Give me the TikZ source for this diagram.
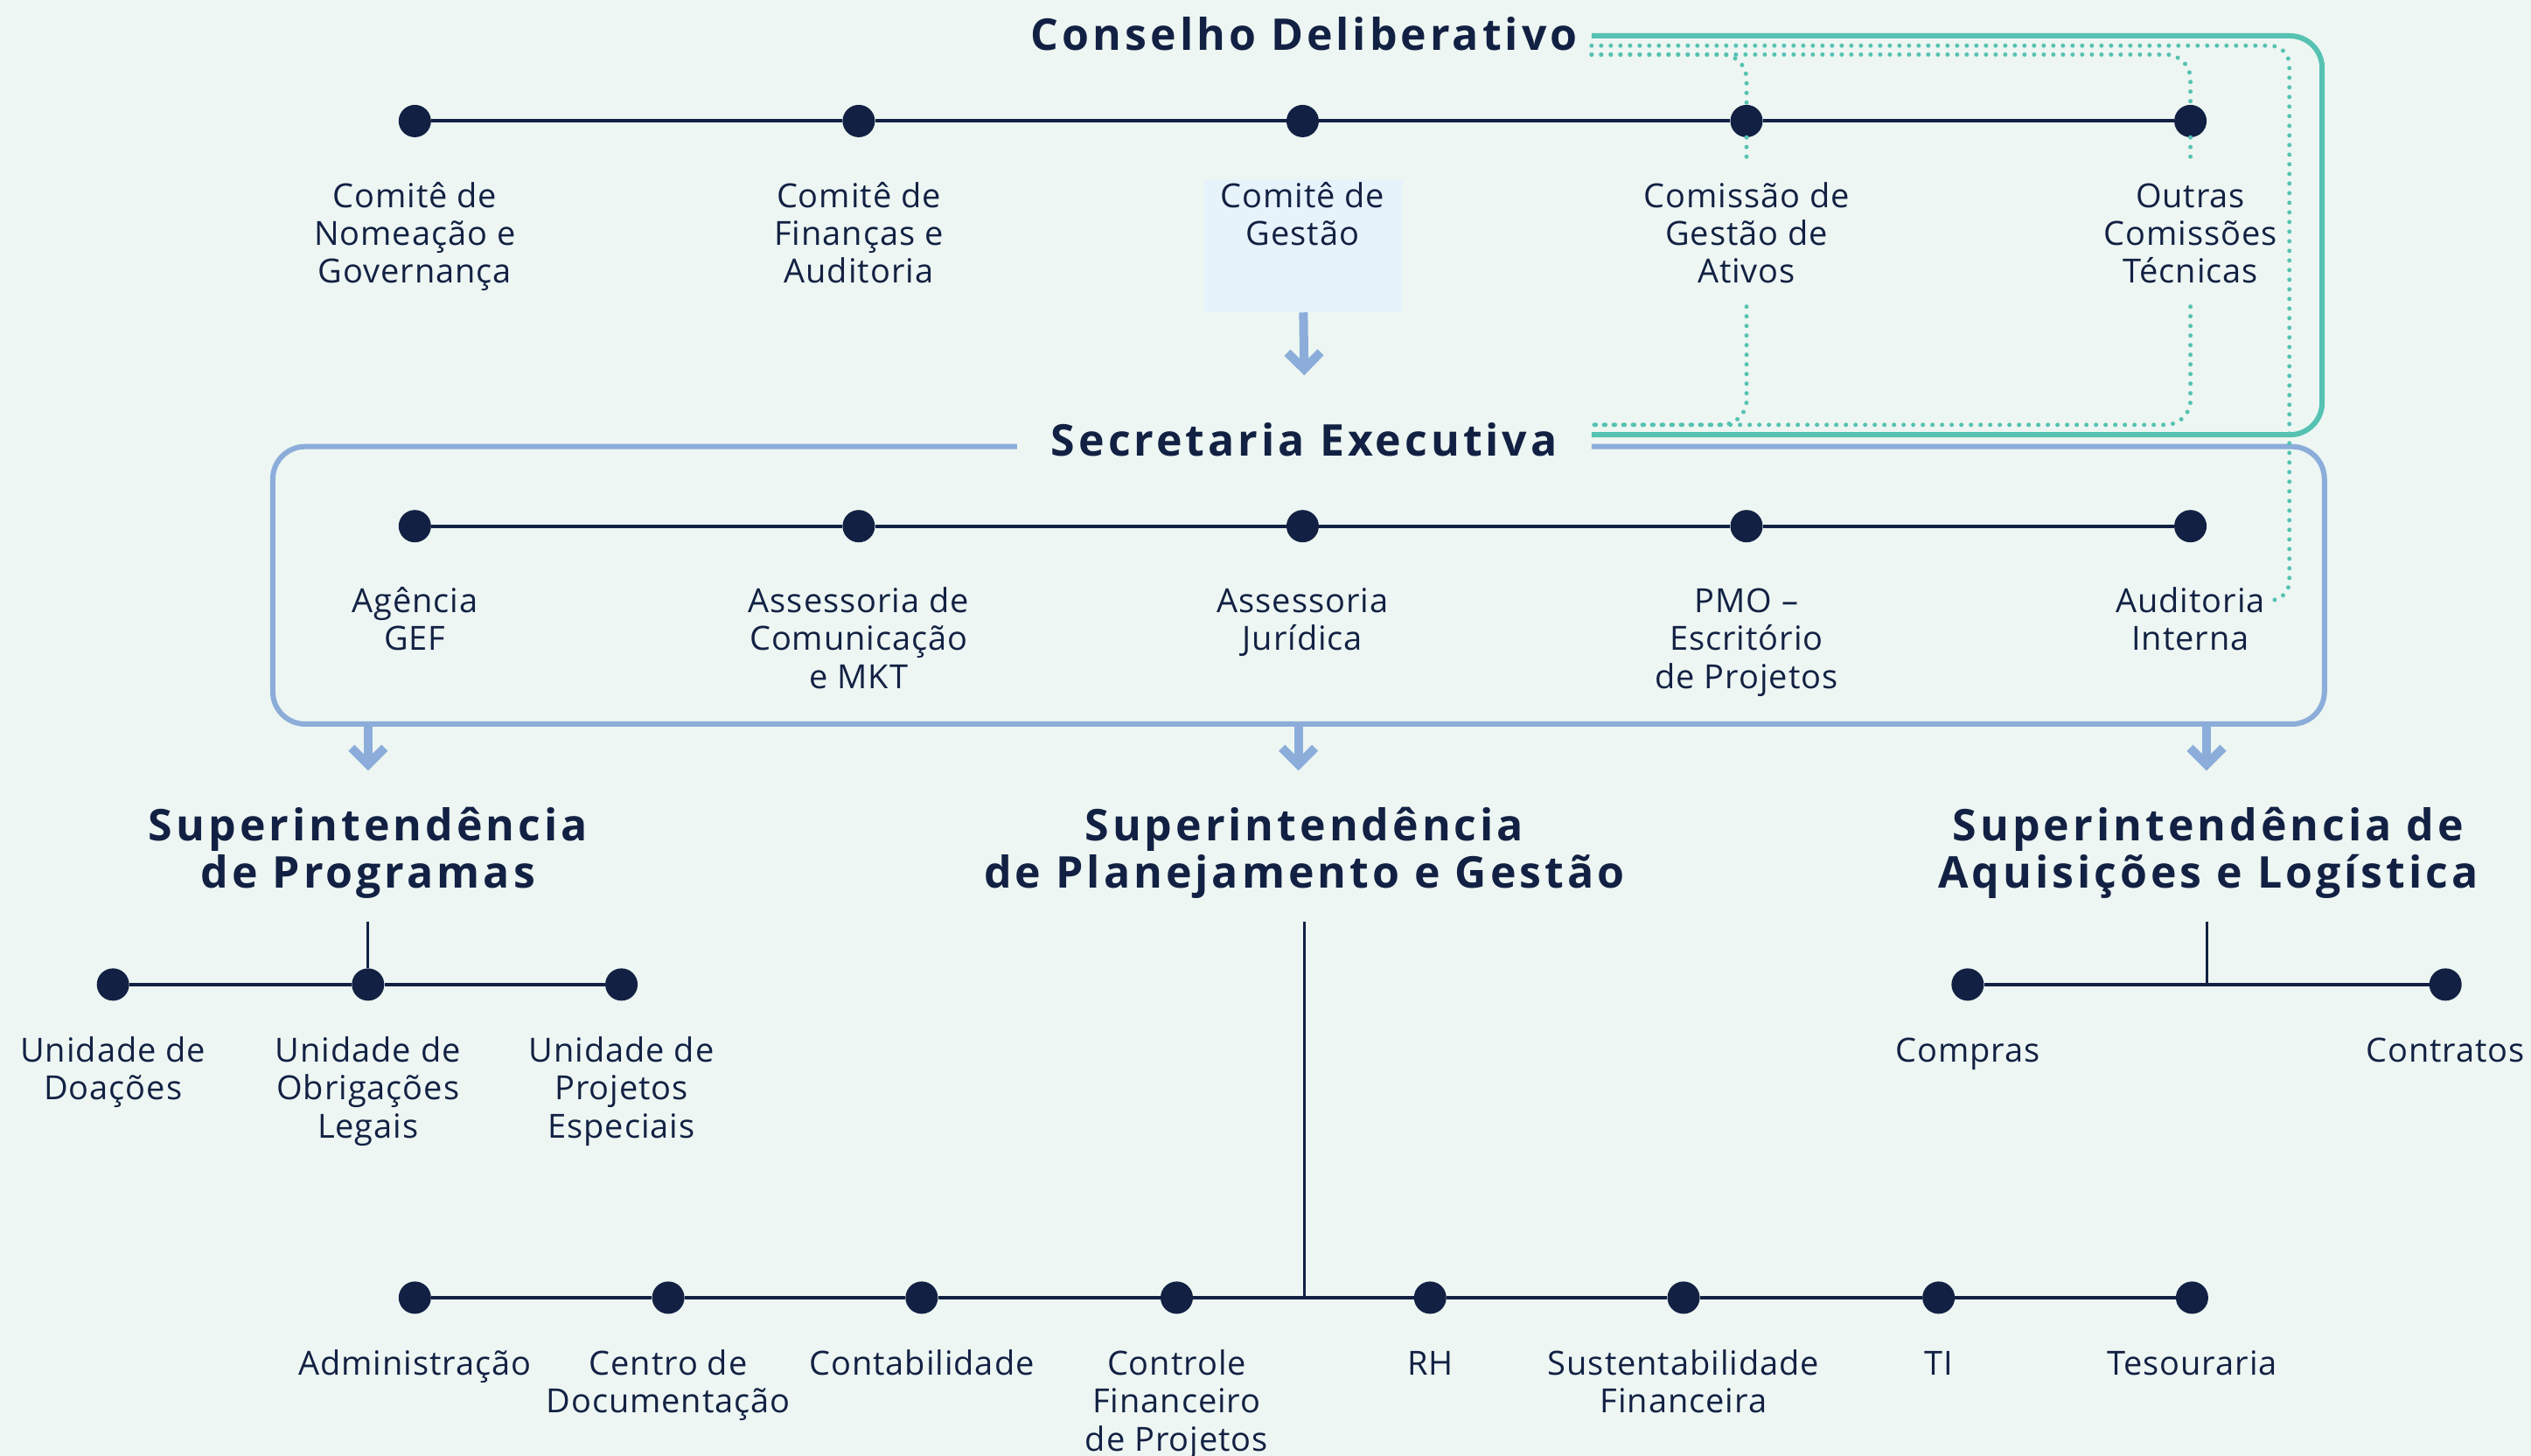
\documentclass[tikz,border=0pt]{standalone}
\usepackage{fontspec}
\setmainfont{Open Sans}[LetterSpace=2.5]
\newfontfamily\ttlfamily{Open Sans}[LetterSpace=8]
\usetikzlibrary{arrows.meta,calc}
\definecolor{bgc}{HTML}{EDF6F2}
\definecolor{navy}{HTML}{122143}
\definecolor{tealc}{HTML}{56C2B2}
\definecolor{blu}{HTML}{8CADDA}
\definecolor{hlc}{HTML}{E7F3FA}
\tikzset{
  dot/.style={circle,fill=navy,inner sep=0pt,minimum size=37pt},
  lbl/.style={anchor=base,align=center,inner sep=0pt,text=navy,font=\fontsize{38}{43.4}\selectfont},
  ttl/.style={anchor=base,align=center,inner sep=0pt,text=navy,font=\ttlfamily\bfseries\fontsize{50}{53.5}\selectfont},
  hline/.style={draw=navy,line width=4pt},
  vline/.style={draw=navy,line width=3pt},
  tdot/.style={draw=tealc,line width=5pt,line cap=round,dash pattern=on 0pt off 11pt},
  tsolid/.style={draw=tealc,line width=6pt},
  bbox/.style={draw=blu,line width=6pt},
  barrow/.style={draw=blu,line width=10pt,-{Straight Barb[length=19pt,width=38pt]}},
}
% label base = baseline of the LAST line; first-line baselines:
% top row 128.5, 2nd row 379.5, lower rows 658 / 852; line step 23.51
\begin{document}
\begin{tikzpicture}[x=1.8457pt,y=-1.8457pt]
\useasboundingbox (0,0) rectangle (1568,902);
\fill[bgc] (0,0) rectangle (1568,902);

% highlight box behind "Comite de Gestao"
\node[fill=hlc,minimum width=227pt,minimum height=152pt,inner sep=0pt,anchor=north] (cgbox) at (807.5,111) {};

% titles (base = last line)
\node[ttl] (cons) at (808,31) {Conselho Deliberativo};
\node[ttl] (sec) at (808,282.5) {Secretaria Executiva};
\node[ttl] (supP) at (228,550) {Superintendência\\de Programas};
\node[ttl] (supG) at (808,550) {Superintendência\\de Planejamento e Gestão};
\node[ttl] (supA) at (1368,550) {Superintendência de\\Aquisições e Logística};

% top row
\node[dot] (t1) at (257,75) {};
\node[dot] (t2) at (532,75) {};
\node[dot] (t3) at (807,75) {};
\node[dot] (t4) at (1082,75) {};
\node[dot] (t5) at (1357,75) {};
\draw[hline] (t1) -- (t2) -- (t3) -- (t4) -- (t5);
\node[lbl] (l11) at (257,175.5) {Comitê de\\Nomeação e\\Governança};
\node[lbl] (l12) at (532,175.5) {Comitê de\\Finanças e\\Auditoria};
\node[lbl] (l13) at (807,152) {Comitê de\\Gestão};
\node[lbl] (l14) at (1082,175.5) {Comissão de\\Gestão de\\Ativos};
\node[lbl] (l15) at (1357,175.5) {Outras\\Comissões\\Técnicas};

% second row
\node[dot] (s1) at (257,326) {};
\node[dot] (s2) at (532,326) {};
\node[dot] (s3) at (807,326) {};
\node[dot] (s4) at (1082,326) {};
\node[dot] (s5) at (1357,326) {};
\draw[hline] (s1) -- (s2) -- (s3) -- (s4) -- (s5);
\node[lbl] (l21) at (257,403) {Agência\\GEF};
\node[lbl] (l22) at (532,426.5) {Assessoria de\\Comunicação\\e MKT};
\node[lbl] (l23) at (807,403) {Assessoria\\Jurídica};
\node[lbl] (l24) at (1082,426.5) {PMO –\\Escritório\\de Projetos};
\node[lbl] (l25) at (1357,403) {Auditoria\\Interna};

% Secretaria box
\coordinate (bxA) at (630,276.7);
\coordinate (bxB) at (169,276.7);
\coordinate (bxC) at (169,448.6);
\coordinate (bxD) at (1440,448.6);
\coordinate (bxE) at (1440,276.7);
\coordinate (bxF) at (986,276.7);
\draw[bbox,rounded corners=37pt] (bxA) -- (bxB) -- (bxC) -- (bxD) -- (bxE) -- (bxF);

% teal connectors
\coordinate (cA) at (986,22.2);
\coordinate (cB) at (986,28.3);
\coordinate (cC) at (986,33.8);
\coordinate (sA) at (986,269.4);
\coordinate (sB) at (986,263.2);
\coordinate (rgt) at (1438.6,150);
\draw[tsolid,rounded corners=37pt] (cA) -| (rgt) |- (sA);
\coordinate (audE) at ($(l25.base east)+(4,-31)$);
\draw[tdot,rounded corners=22pt] (cB) -| ($(audE)+(11,0)$) -- (audE);
\draw[tdot,rounded corners=28pt] (cC) -| (t5.north);
\draw[tdot,rounded corners=28pt] (cC) -| (t4.north);
\draw[tdot] (t5.south) -- ++(0,12);
\draw[tdot] (t4.south) -- ++(0,12);
\draw[tdot,rounded corners=28pt] ($(t5)+(0,115)$) |- (sB);
\draw[tdot,rounded corners=28pt] ($(t4)+(0,115)$) |- (sB);

% blue arrows
\draw[barrow] (cgbox.south) -- ($(sec.base)+(0,-50)$);
\coordinate (ob1) at (228,448.6);
\coordinate (ob2) at (804.4,448.6);
\coordinate (ob3) at (1367,448.6);
\draw[barrow] (ob1) -- ($(ob1 |- supP.base)+(0,-72.5)$);
\draw[barrow] (ob2) -- ($(ob2 |- supG.base)+(0,-72.5)$);
\draw[barrow] (ob3) -- ($(ob3 |- supA.base)+(0,-72.5)$);

% Superintendencia de Programas
\node[dot] (p1) at (70,610) {};
\node[dot] (p2) at (228,610) {};
\node[dot] (p3) at (385,610) {};
\draw[hline] (p1) -- (p2) -- (p3);
\draw[vline] ($(p2 |- supP.base)+(0,21)$) -- (p2);
\node[lbl] (lp1) at (70,681.5) {Unidade de\\Doações};
\node[lbl] (lp2) at (228,705) {Unidade de\\Obrigações\\Legais};
\node[lbl] (lp3) at (385,705) {Unidade de\\Projetos\\Especiais};

% Superintendencia de Aquisicoes e Logistica
\node[dot] (a1) at (1219,610) {};
\node[dot] (a2) at (1515,610) {};
\coordinate (aj) at (1367,610);
\draw[hline] (a1) -- (a2);
\draw[vline] ($(aj |- supA.base)+(0,21)$) -- (aj);
\node[lbl] (la1) at (1219,658) {Compras};
\node[lbl] (la2) at (1515,658) {Contratos};

% Superintendencia de Planejamento e Gestao
\node[dot] (b1) at (257,804) {};
\node[dot] (b2) at (414,804) {};
\node[dot] (b3) at (571,804) {};
\node[dot] (b4) at (729,804) {};
\node[dot] (b5) at (886,804) {};
\node[dot] (b6) at (1043,804) {};
\node[dot] (b7) at (1201,804) {};
\node[dot] (b8) at (1358,804) {};
\coordinate (bj) at (808,804);
\draw[hline] (b1) -- (b2) -- (b3) -- (b4) -- (b5) -- (b6) -- (b7) -- (b8);
\draw[vline] ($(bj |- supG.base)+(0,21)$) -- (bj);
\node[lbl] (lb1) at (257,852) {Administração};
\node[lbl] (lb2) at (414,875.5) {Centro de\\Documentação};
\node[lbl] (lb3) at (571,852) {Contabilidade};
\node[lbl] (lb4) at (729,899) {Controle\\Financeiro\\de Projetos};
\node[lbl] (lb5) at (886,852) {RH};
\node[lbl] (lb6) at (1043,875.5) {Sustentabilidade\\Financeira};
\node[lbl] (lb7) at (1201,852) {TI};
\node[lbl] (lb8) at (1358,852) {Tesouraria};
\end{tikzpicture}
\end{document}
